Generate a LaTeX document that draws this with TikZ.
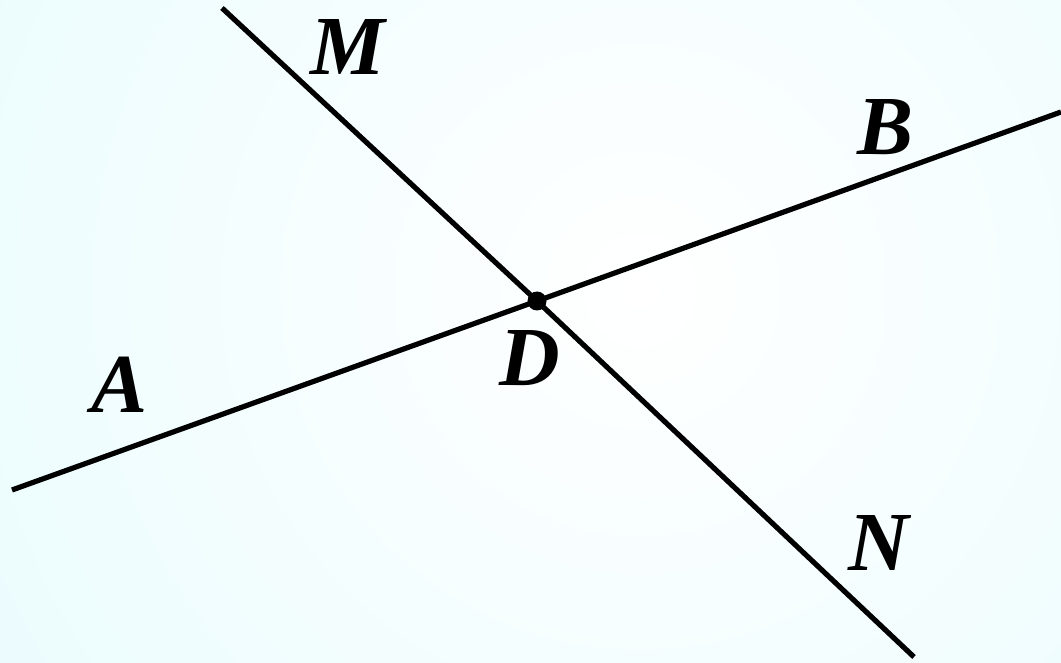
\documentclass[tikz,border=0pt]{standalone}
\usepackage{fontspec}
\setmainfont{Liberation Serif}
\definecolor{bgc}{RGB}{218,250,253}
\tikzset{
  ln/.style={line width=5.2pt, black},
  lbl/.style={font=\fontsize{84}{86}\selectfont\bfseries\itshape, inner sep=0pt, anchor=center},
  dotpt/.style={circle, fill=black, inner sep=0pt, minimum size=19pt}
}
\begin{document}
\begin{tikzpicture}[x=1pt,y=-1pt]
\useasboundingbox (0,0) rectangle (1061,663);
\begin{scope}
\clip (0,0) rectangle (1061,663);
\shade[inner color=white, outer color=bgc] (640,290) circle (1400);
\end{scope}
\coordinate (A) at (12,490);
\coordinate (B) at (1061,112);
\coordinate (M) at (222,8);
\coordinate (N) at (914,657);
\node[dotpt] (D) at (537,301) {};
\draw[ln] (A) -- (D.center) -- (B);
\draw[ln] (M) -- (D.center) -- (N);
\node[lbl] (lM) at (348,47) {M};
\node[lbl] (lB) at (886,127) {B};
\node[lbl] (lA) at (120,385) {A};
\node[lbl] (lD) at (530,358) {D};
\node[lbl] (lN) at (879,543) {N};
\end{tikzpicture}
\end{document}
